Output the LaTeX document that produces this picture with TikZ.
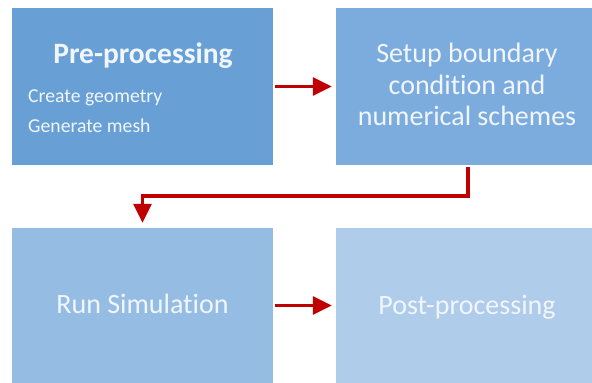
\documentclass[tikz,border=0pt]{standalone}
\usepackage{fontspec}
\setmainfont[Ligatures={NoCommon}]{Carlito}
\usetikzlibrary{arrows.meta}
\definecolor{boxA}{RGB}{104,160,214}
\definecolor{boxB}{RGB}{124,172,222}
\definecolor{boxC}{RGB}{149,189,227}
\definecolor{boxD}{RGB}{175,204,234}
\definecolor{txt}{RGB}{240,246,252}
\definecolor{arrred}{RGB}{192,0,0}
\tikzset{
  stage/.style={rectangle, inner sep=0pt, draw=none, minimum width=#1},
  big/.style={anchor=base, inner sep=0pt, text=txt, font=\fontsize{28}{31}\selectfont},
  small/.style={anchor=base west, inner sep=0pt, text=txt, font=\fontsize{19.7}{22}\selectfont},
  flow/.style={draw=arrred, line width=3.2pt, -{Triangle[length=19pt,width=18pt]}},
}
\begin{document}
\begin{tikzpicture}[x=1pt,y=-1pt]
\useasboundingbox (0,0) rectangle (592,383);
% boxes
\node[stage=261pt, minimum height=157pt, fill=boxA] (pre) at (142.5,86.5) {};
\node[stage=256pt, minimum height=157pt, fill=boxB] (setup) at (464,86.5) {};
\node[stage=261pt, minimum height=155pt, fill=boxC] (run) at (142.5,305.5) {};
\node[stage=256pt, minimum height=155pt, fill=boxD] (post) at (464,305.5) {};
% texts
\node[big, font=\fontsize{29.5}{31}\selectfont\bfseries] (pretitle) at (143,63) {Pre-processing};
\node[small] (item1) at (28,102) {Create geometry};
\node[small] (item2) at (28,132) {Generate mesh};
\node[big] (s1) at (467,62) {Setup boundary};
\node[big] (s2) at (467,94) {condition and};
\node[big] (s3) at (467,125) {numerical schemes};
\node[big] (runt) at (142.5,313) {Run Simulation};
\node[big] (postt) at (467,314) {Post-processing};
% connectors
\coordinate (mid) at (0,196);
\draw[flow, shorten <=2pt, shorten >=4pt] (pre.east) -- (setup.west);
\draw[flow, shorten <=2pt, shorten >=4pt] (run.east) -- (post.west);
\draw[flow, shorten <=2pt, shorten >=5pt] ([xshift=4pt]setup.south) |- (mid -| run.north) -- (run.north);
\end{tikzpicture}
\end{document}
